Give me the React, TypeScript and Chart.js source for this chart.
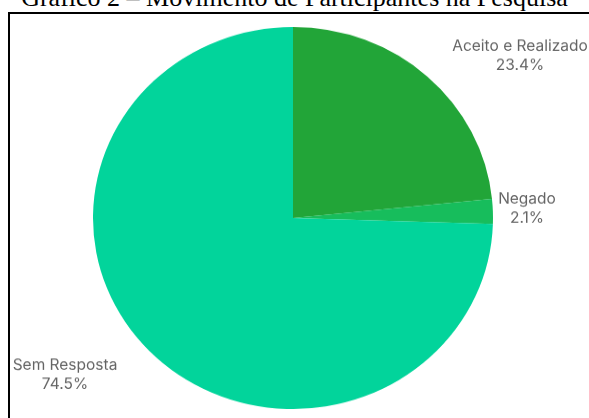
import React, { useEffect, useRef } from "react";
import { Chart, registerables } from "chart.js";

Chart.register(...registerables);

const titleText = "Gráfico 2 – Movimento de Participantes na Pesquisa";
const categories = ["Aceito e Realizado", "Negado", "Sem Resposta"];
const percentages = [23.4, 2.1, 74.5];
const sliceColors = ["#22a538", "#17bd5c", "#02d49b"];
// label anchor offsets, in units of the pie radius, from the pie centre
const labelOffsetX = [1.135, 1.17, -1.14];
const labelOffsetY = [-0.85, -0.05, 0.82];

const labelPlugin = {
  id: "outsideLabels",
  afterDatasetsDraw(chart: any) {
    const ctx = chart.ctx;
    const meta = chart.getDatasetMeta(0);
    ctx.save();
    ctx.font = "15.5px Inter, 'Open Sans', sans-serif";
    ctx.fillStyle = "#646464";
    ctx.textAlign = "center";
    ctx.textBaseline = "middle";
    meta.data.forEach((arc: any, i: number) => {
      const r = arc.outerRadius;
      const x = arc.x + labelOffsetX[i] * r;
      const y = arc.y + labelOffsetY[i] * r;
      ctx.fillText(categories[i], x, y - 10);
      ctx.fillText(percentages[i].toFixed(1) + "%", x, y + 10);
    });
    ctx.restore();
  },
};

export default function App() {
  const ref = useRef<HTMLCanvasElement>(null);
  useEffect(() => {
    if (!ref.current) return;
    const chart = new Chart(ref.current, {
      type: "pie",
      data: {
        labels: categories,
        datasets: [
          {
            data: percentages,
            backgroundColor: sliceColors,
            borderWidth: 0,
          },
        ],
      },
      options: {
        animation: false,
        responsive: false,
        maintainAspectRatio: false,
        layout: { padding: { top: 18, bottom: 0, left: 0, right: 3 } },
        plugins: {
          legend: { display: false },
          tooltip: { enabled: false },
          title: { display: false },
        },
      },
      plugins: [labelPlugin],
    });
    return () => chart.destroy();
  }, []);

  return (
    <div
      style={{
        position: "fixed",
        left: 0,
        top: 0,
        width: 589,
        height: 418,
        overflow: "hidden",
        background: "#ffffff",
      }}
    >
      <div
        style={{
          position: "absolute",
          left: 0,
          top: -15,
          width: 589,
          textAlign: "center",
          fontFamily: "'Liberation Serif', 'Times New Roman', serif",
          fontSize: 26,
          lineHeight: "26px",
          color: "#000",
          whiteSpace: "nowrap",
        }}
      >
        {titleText}
      </div>
      <div
        style={{
          position: "absolute",
          left: 8,
          top: 12,
          width: 620,
          height: 450,
          border: "2px solid #000",
          boxSizing: "border-box",
        }}
      />
      <canvas
        ref={ref}
        width={589}
        height={418}
        style={{
          position: "absolute",
          left: 0,
          top: 0,
          width: 589,
          height: 418,
          transform: "scaleY(0.955)",
          transformOrigin: "50% 218px",
        }}
      />
    </div>
  );
}
